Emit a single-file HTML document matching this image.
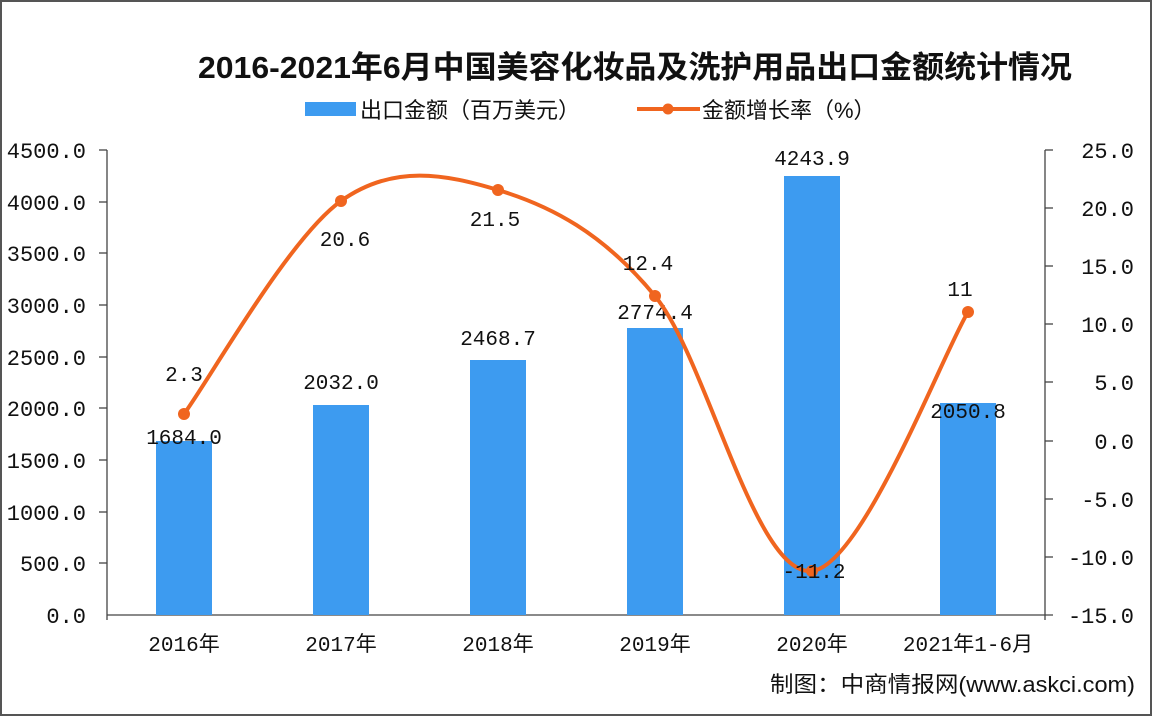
<!DOCTYPE html>
<html><head><meta charset="utf-8"><style>
html,body{margin:0;padding:0;background:#fff;}
svg{display:block}
text{font-family:"Liberation Mono","Noto Sans CJK SC",monospace;}
.cjk{font-family:"Liberation Sans","Noto Sans CJK SC",sans-serif;}
</style></head><body>
<svg width="1152" height="716" viewBox="0 0 1152 716" xmlns="http://www.w3.org/2000/svg">
<rect x="0" y="0" width="1152" height="716" fill="#fff"/>
<rect x="1" y="1" width="1150" height="714" fill="none" stroke="#555" stroke-width="2"/>
<text class="cjk" x="198" y="78" font-size="31" font-weight="bold" fill="#111" textLength="874" lengthAdjust="spacingAndGlyphs">2016-2021年6月中国美容化妆品及洗护用品出口金额统计情况</text>
<rect x="305" y="102" width="51" height="14" fill="#3d9bf0"/>
<text class="cjk" x="360" y="118" font-size="22" fill="#111">出口金额（百万美元）</text>
<line x1="637" y1="109" x2="700" y2="109" stroke="#f0651f" stroke-width="4"/>
<circle cx="668" cy="109" r="5.5" fill="#f0651f"/>
<text class="cjk" x="702" y="118" font-size="22" fill="#111">金额增长率（%）</text>
<g stroke="#444" stroke-width="1.3">
<line x1="107" y1="150" x2="107" y2="620"/>
<line x1="1045" y1="150" x2="1045" y2="620"/>
<line x1="107" y1="615" x2="1053" y2="615"/>
<line x1="99" y1="150" x2="107" y2="150"/><line x1="99" y1="202" x2="107" y2="202"/>
<line x1="99" y1="253" x2="107" y2="253"/><line x1="99" y1="305" x2="107" y2="305"/>
<line x1="99" y1="357" x2="107" y2="357"/><line x1="99" y1="408" x2="107" y2="408"/>
<line x1="99" y1="460" x2="107" y2="460"/><line x1="99" y1="512" x2="107" y2="512"/>
<line x1="99" y1="563" x2="107" y2="563"/>
<line x1="1045" y1="150" x2="1053" y2="150"/><line x1="1045" y1="208" x2="1053" y2="208"/>
<line x1="1045" y1="266" x2="1053" y2="266"/><line x1="1045" y1="324" x2="1053" y2="324"/>
<line x1="1045" y1="382" x2="1053" y2="382"/><line x1="1045" y1="441" x2="1053" y2="441"/>
<line x1="1045" y1="499" x2="1053" y2="499"/><line x1="1045" y1="557" x2="1053" y2="557"/>
</g>
<g font-size="22" fill="#111" text-anchor="end">
<text x="86" y="158">4500.0</text><text x="86" y="210">4000.0</text><text x="86" y="261">3500.0</text>
<text x="86" y="313">3000.0</text><text x="86" y="365">2500.0</text><text x="86" y="416">2000.0</text>
<text x="86" y="468">1500.0</text><text x="86" y="520">1000.0</text><text x="86" y="571">500.0</text>
<text x="86" y="623">0.0</text>
</g>
<g font-size="22" fill="#111" text-anchor="end">
<text x="1134" y="158">25.0</text><text x="1134" y="216">20.0</text><text x="1134" y="274">15.0</text>
<text x="1134" y="332">10.0</text><text x="1134" y="390">5.0</text><text x="1134" y="449">0.0</text>
<text x="1134" y="507">-5.0</text><text x="1134" y="565">-10.0</text><text x="1134" y="623">-15.0</text>
</g>
<g fill="#3d9bf0">
<rect x="156" y="441" width="56" height="174"/>
<rect x="313" y="405" width="56" height="210"/>
<rect x="470" y="360" width="56" height="255"/>
<rect x="627" y="328" width="56" height="287"/>
<rect x="784" y="176" width="56" height="439"/>
<rect x="940" y="403" width="56" height="212"/>
</g>
<g font-size="21" fill="#111" text-anchor="middle">
<text x="184" y="444">1684.0</text><text x="341" y="389">2032.0</text><text x="498" y="345">2468.7</text>
<text x="655" y="319">2774.4</text><text x="812" y="165">4243.9</text><text x="968" y="418">2050.8</text>
</g>
<path d="M184,414 C210.2,378.5 288.7,238.3 341,201 C393.3,163.7 445.7,174.2 498,190 C550.3,205.8 602.7,232.5 655,296 C707.3,359.5 755,577 812,571 C862,566 942,355.2 968,312" fill="none" stroke="#f0651f" stroke-width="4"/>
<g fill="#f0651f">
<circle cx="184" cy="414" r="6"/><circle cx="341" cy="201" r="6"/><circle cx="498" cy="190" r="6"/>
<circle cx="655" cy="296" r="6"/><circle cx="812" cy="571" r="6"/><circle cx="968" cy="312" r="6"/>
</g>
<g font-size="21" fill="#111" text-anchor="middle">
<text x="184" y="381">2.3</text><text x="345" y="246">20.6</text><text x="495" y="226">21.5</text>
<text x="648" y="270">12.4</text><text x="814" y="578">-11.2</text><text x="960" y="296">11</text>
</g>
<g class="cjk" font-size="21" fill="#111" text-anchor="middle">
<text x="184" y="651">2016年</text><text x="341" y="651">2017年</text><text x="498" y="651">2018年</text>
<text x="655" y="651">2019年</text><text x="812" y="651">2020年</text><text x="968" y="651">2021年1-6月</text>
</g>
<text class="cjk" x="770" y="692" font-size="22" fill="#111" textLength="365" lengthAdjust="spacingAndGlyphs">制图：中商情报网(www.askci.com)</text>
</svg>
</body></html>
